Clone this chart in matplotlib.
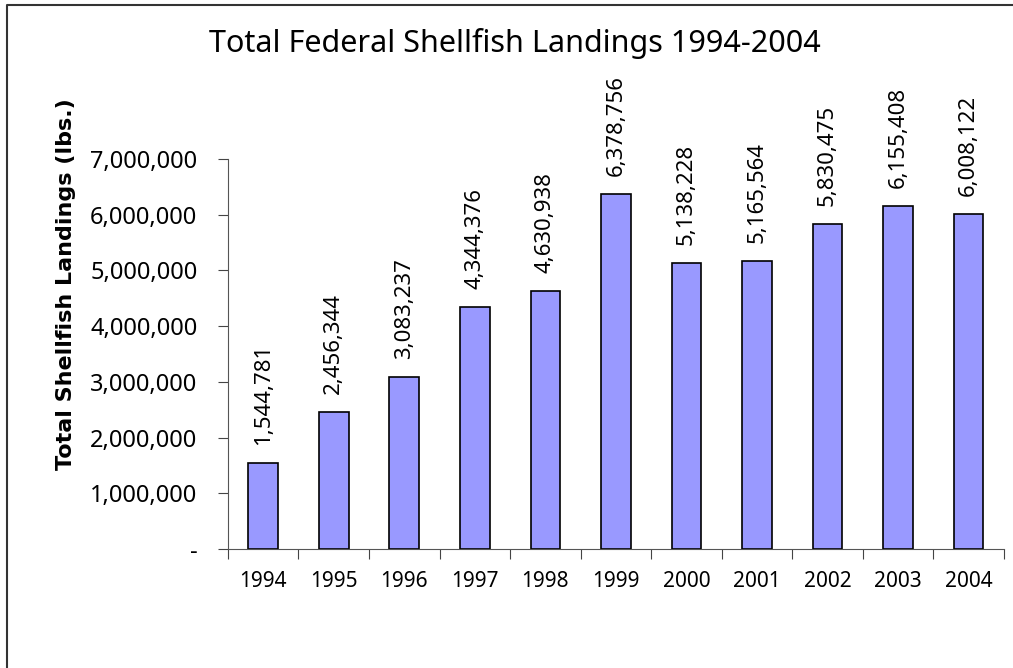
import matplotlib.pyplot as plt
from matplotlib.lines import Line2D
from matplotlib.ticker import FuncFormatter
import numpy as np

years = ['1994', '1995', '1996', '1997', '1998', '1999',
         '2000', '2001', '2002', '2003', '2004']
landings = [1544781, 2456344, 3083237, 4344376, 4630938, 6378756,
            5138228, 5165564, 5830475, 6155408, 6008122]

plt.rcParams['font.family'] = ['Noto Sans', 'DejaVu Sans']

fig = plt.figure(figsize=(10.13, 6.68), dpi=100)
# chart frame is cropped: only the left and top edges show
fig.lines.append(Line2D([0.007, 0.007, 1.0], [0.0, 0.992, 0.992], transform=fig.transFigure,
                        color='#333333', linewidth=1.5))

ax = fig.add_axes([0.225, 0.178, 0.766, 0.584])
x = np.arange(len(years))
ax.bar(x, landings, width=0.42, color='#9999FF', edgecolor='black', linewidth=1.2)

for xi, v in zip(x, landings):
    ax.annotate(f'{v:,}', (xi, v), xytext=(0, 13), textcoords='offset points',
                rotation=90, ha='center', va='bottom', fontsize=16)

ax.set_xlim(-0.5, len(years) - 0.5)
ax.set_ylim(0, 7000000)
ax.set_yticks(range(0, 7000001, 1000000))
ax.yaxis.set_major_formatter(FuncFormatter(lambda v, p: '-' if v == 0 else f'{int(v):,}'))
ax.set_xticks(np.arange(-0.5, len(years), 1.0))
ax.set_xticklabels([])
ax.set_xticks(x, minor=True)
ax.set_xticklabels(years, minor=True)
ax.tick_params(axis='x', which='major', length=7, color='#444444')
ax.tick_params(axis='x', which='minor', length=0, labelsize=15, pad=16)
ax.tick_params(axis='y', length=7, color='#444444', labelsize=17, pad=15)

for s in ['top', 'right']:
    ax.spines[s].set_visible(False)
for s in ['left', 'bottom']:
    ax.spines[s].set_color('#555555')

ax.set_ylabel('Total Shellfish Landings (lbs.)', fontsize=16, fontweight='bold',
              family=['DejaVu Sans'], labelpad=10, y=0.68)
fig.text(0.508, 0.935, 'Total Federal Shellfish Landings 1994-2004', ha='center', va='center',
         fontsize=22)

fig.savefig('out.png', dpi=100)
